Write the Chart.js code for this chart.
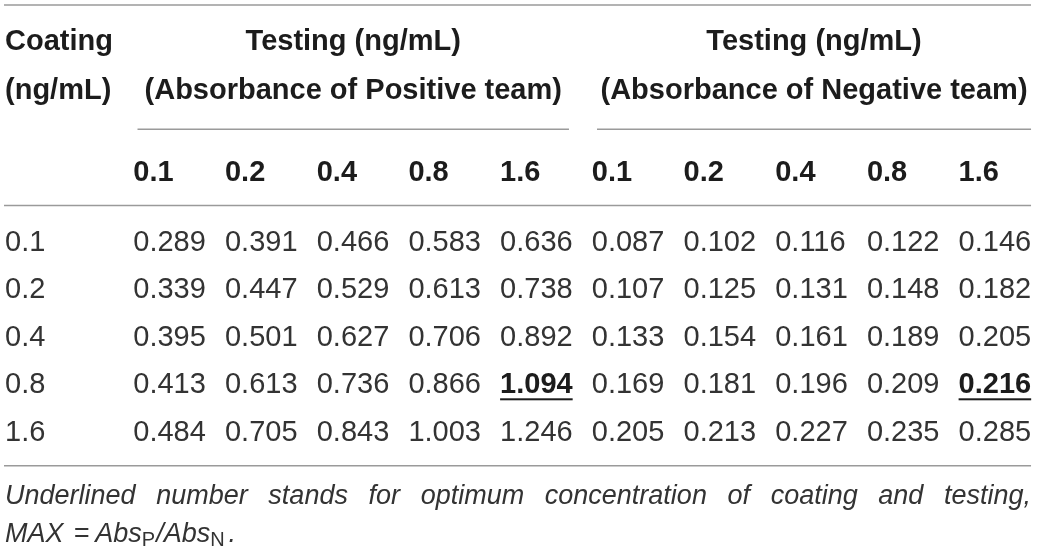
<!DOCTYPE html>
<html>
<head>
<meta charset="utf-8">
<script src="https://cdn.jsdelivr.net/npm/chart.js@4/dist/chart.umd.min.js"></script>
<style>
  html, body { margin: 0; padding: 0; background: #ffffff; }
  #wrap { width: 1039px; height: 551px; }
</style>
</head>
<body>
<div id="wrap"><canvas id="c" width="1039" height="551"></canvas></div>
<script>
// ---------------- DATA ----------------
const coatingLevels = ['0.1', '0.2', '0.4', '0.8', '1.6'];
const testingLevels = ['0.1', '0.2', '0.4', '0.8', '1.6'];
const positiveAbs = [
  [0.289, 0.391, 0.466, 0.583, 0.636],
  [0.339, 0.447, 0.529, 0.613, 0.738],
  [0.395, 0.501, 0.627, 0.706, 0.892],
  [0.413, 0.613, 0.736, 0.866, 1.094],
  [0.484, 0.705, 0.843, 1.003, 1.246]
];
const negativeAbs = [
  [0.087, 0.102, 0.116, 0.122, 0.146],
  [0.107, 0.125, 0.131, 0.148, 0.182],
  [0.133, 0.154, 0.161, 0.189, 0.205],
  [0.169, 0.181, 0.196, 0.209, 0.216],
  [0.205, 0.213, 0.227, 0.235, 0.285]
];
const optimumRow = 3;   // coating 0.8
const optimumCol = 4;   // testing 1.6
const rowHeaderLines = ['Coating', '(ng/mL)'];
const groupTitle = 'Testing (ng/mL)';
const groupSubtitles = ['(Absorbance of Positive team)', '(Absorbance of Negative team)'];
const noteWords = ['Underlined', 'number', 'stands', 'for', 'optimum', 'concentration', 'of', 'coating', 'and', 'testing,'];
const noteFormula = ['MAX', '=', 'Abs', 'P', '/Abs', 'N', '.'];

// ---------------- LAYOUT / STYLE (scale units, px gaps) ----------------
const X = { label: -1.399, left: -1.41, right: 9.79, posStart: 0.046, posEnd: 4.751, negStart: 5.057, negEnd: 9.79 };
const Y = { topRule: -5.158, head1: -4.212, head2: -3.183, groupRule: -2.546, colHead: -1.46, headRule: -0.945,
            bottomRule: 4.521, note1: 5.332, note2: 6.118 };
const formulaStyles = ['it', 'it', 'it', 'sub', 'it', 'sub', 'it'];
const formulaGaps = [10, 6, 0, 1, 0, 4, 0];
const FONTS = {
  bold: 'bold 29px "Liberation Sans", Arial, sans-serif',
  reg: '29px "Liberation Sans", Arial, sans-serif',
  it: 'italic 27px "Liberation Sans", Arial, sans-serif',
  sub: '20px "Liberation Sans", Arial, sans-serif'
};
const COLORS = { bold: '#1c1c1c', reg: '#333333', it: '#333333', sub: '#333333', rule: '#9a9a9a' };

// ---------------- DATASETS ----------------
const datasets = [];
function rule(y, x0, x1) {
  datasets.push({ type: 'line', data: [{ x: x0, y: y }, { x: x1, y: y }], borderColor: COLORS.rule,
    borderWidth: 1.6, pointRadius: 0, fill: false, showLine: true });
}
rule(Y.topRule, X.left, X.right);
rule(Y.groupRule, X.posStart, X.posEnd);
rule(Y.groupRule, X.negStart, X.negEnd);
rule(Y.headRule, X.left, X.right);
rule(Y.bottomRule, X.left, X.right);

function textSet(points, cells) {
  datasets.push({ data: points, cells: cells, pointRadius: 0, showLine: false });
}
const posMid = (X.posStart + X.posEnd) / 2, negMid = (X.negStart + X.negEnd) / 2;
textSet(
  [{ x: X.label, y: Y.head1 }, { x: X.label, y: Y.head2 },
   { x: posMid, y: Y.head1 }, { x: negMid, y: Y.head1 },
   { x: posMid, y: Y.head2 }, { x: negMid, y: Y.head2 }],
  [{ text: rowHeaderLines[0], style: 'bold', align: 'left' },
   { text: rowHeaderLines[1], style: 'bold', align: 'left' },
   { text: groupTitle, style: 'bold', align: 'center' },
   { text: groupTitle, style: 'bold', align: 'center' },
   { text: groupSubtitles[0], style: 'bold', align: 'center' },
   { text: groupSubtitles[1], style: 'bold', align: 'center' }]
);
const colPts = [], colCells = [];
for (let g = 0; g < 2; g++) testingLevels.forEach((t, i) => {
  colPts.push({ x: g * testingLevels.length + i, y: Y.colHead });
  colCells.push({ text: t, style: 'bold', align: 'left' });
});
textSet(colPts, colCells);
coatingLevels.forEach((c, r) => {
  const pts = [{ x: X.label, y: r }], cells = [{ text: c, style: 'reg', align: 'left' }];
  [positiveAbs, negativeAbs].forEach((tbl, g) => {
    tbl[r].forEach((v, i) => {
      const opt = r === optimumRow && i === optimumCol;
      pts.push({ x: g * testingLevels.length + i, y: r });
      cells.push({ text: v.toFixed(3), style: opt ? 'bold' : 'reg', align: 'left', underline: opt });
    });
  });
  textSet(pts, cells);
});
datasets.push({ data: [{ x: X.label, y: Y.note1 }, { x: X.right, y: Y.note1 }], justify: noteWords, pointRadius: 0, showLine: false });
datasets.push({ data: [{ x: X.label, y: Y.note2 }], rich: noteFormula, pointRadius: 0, showLine: false });

// ---------------- PLUGIN ----------------
const tablePlugin = {
  id: 'tableText',
  afterDatasetsDraw(chart) {
    const ctx = chart.ctx;
    chart.data.datasets.forEach((ds, di) => {
      const meta = chart.getDatasetMeta(di);
      if (ds.cells) {
        meta.data.forEach((el, i) => {
          const c = ds.cells[i];
          ctx.save();
          ctx.font = FONTS[c.style];
          ctx.fillStyle = COLORS[c.style];
          ctx.textAlign = c.align;
          ctx.textBaseline = 'alphabetic';
          ctx.fillText(c.text, el.x, el.y);
          if (c.underline) {
            const w = ctx.measureText(c.text).width;
            const x0 = c.align === 'center' ? el.x - w / 2 : el.x;
            ctx.fillRect(x0, el.y + 5, w, 2);
          }
          ctx.restore();
        });
      } else if (ds.justify) {
        const a = meta.data[0], b = meta.data[1];
        ctx.save();
        ctx.font = FONTS.it;
        ctx.fillStyle = COLORS.it;
        ctx.textBaseline = 'alphabetic';
        const widths = ds.justify.map(w => ctx.measureText(w).width);
        const total = widths.reduce((s, w) => s + w, 0);
        const gap = (b.x - a.x - total) / (ds.justify.length - 1);
        let x = a.x;
        ds.justify.forEach((w, i) => { ctx.fillText(w, x, a.y); x += widths[i] + gap; });
        ctx.restore();
      } else if (ds.rich) {
        const a = meta.data[0];
        ctx.save();
        ctx.textBaseline = 'alphabetic';
        let x = a.x;
        ds.rich.forEach((t, i) => {
          const s = formulaStyles[i];
          ctx.font = FONTS[s];
          ctx.fillStyle = COLORS[s];
          ctx.fillText(t, x, a.y + (s === 'sub' ? 4 : 0));
          x += ctx.measureText(t).width + formulaGaps[i];
        });
        ctx.restore();
      }
    });
  }
};

new Chart(document.getElementById('c'), {
  type: 'scatter',
  data: { datasets: datasets },
  options: {
    responsive: false,
    animation: false,
    events: [],
    layout: { padding: 0, autoPadding: false },
    plugins: { legend: { display: false }, tooltip: { enabled: false } },
    scales: {
      x: { type: 'linear', min: -1.4536, max: 9.8768, display: false },
      y: { type: 'linear', reverse: true, min: -5.2626, max: 6.3130, display: false }
    }
  },
  plugins: [tablePlugin]
});
</script>
</body>
</html>
